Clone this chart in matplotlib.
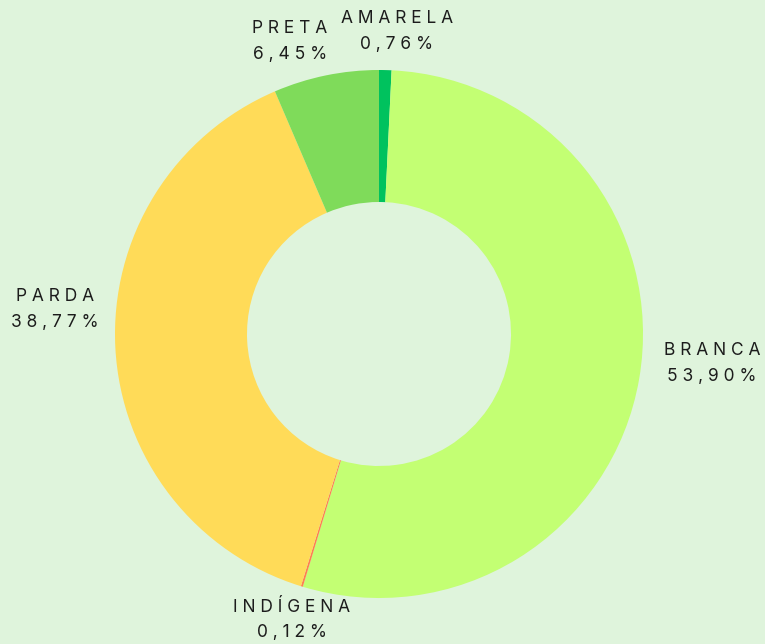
import matplotlib
matplotlib.use("Agg")
import matplotlib.pyplot as plt

categories = ["AMARELA", "BRANCA", "INDÍGENA", "PARDA", "PRETA"]
values = [0.76, 53.90, 0.12, 38.77, 6.45]
value_labels = ["0,76%", "53,90%", "0,12%", "38,77%", "6,45%"]
colors = ["#00c25e", "#c3ff73", "#ff7f50", "#ffdb58", "#7fdb5a"]

# label block centres, in pixels from top-left of the figure
label_px = [(397, 31), (712, 363), (292, 620), (55, 309), (290, 41)]

W, H = 765, 644
bg = "#dff4dc"

plt.rcParams["font.family"] = ["Inter", "DejaVu Sans"]

fig = plt.figure(figsize=(W / 100, H / 100), dpi=100, facecolor=bg)
ax = fig.add_axes([0, 0, 1, 1])
ax.set_facecolor(bg)
ax.set_xlim(0, W)
ax.set_ylim(0, H)
ax.axis("off")

cx, cy, r = 379, H - 334, 264
ax.pie(values, colors=colors, startangle=90, counterclock=False,
       center=(cx, cy), radius=r, frame=True,
       wedgeprops=dict(width=r * 0.5, linewidth=0))
ax.set_xlim(0, W)
ax.set_ylim(0, H)
ax.axis("off")


def spaced(s):
    return " ".join(s)


for name, val, (px, py) in zip(categories, value_labels, label_px):
    ax.text(px, H - py + 13, spaced(name), ha="center", va="center",
            fontsize=12.5, color="#1c1c1c")
    ax.text(px, H - py - 13, spaced(val), ha="center", va="center",
            fontsize=12.5, color="#1c1c1c")

fig.savefig("out.png", dpi=100, facecolor=bg)
